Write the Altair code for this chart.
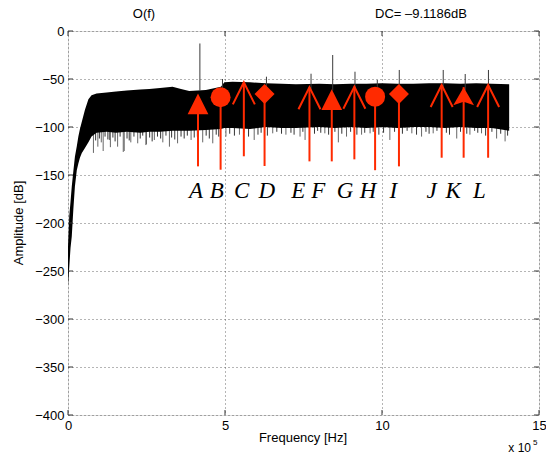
import altair as alt
import pandas as pd

# ---------------- data (frequency in units of 1e5 Hz, amplitude in dB) ----------------
band_f = [0.0, 0.04, 0.08, 0.12, 0.17, 0.22, 0.28, 0.33, 0.38, 0.44, 0.54, 0.65, 0.75, 0.91,
          1.23, 1.53, 1.87, 2.3, 2.59, 2.93, 3.33, 3.6, 3.86, 4.39, 4.87, 4.98, 5.24, 5.8,
          6.3, 6.8, 7.26, 8.0, 8.5, 9.0, 9.5, 10.0, 10.5, 11.0, 11.5, 12.0, 12.5, 13.0, 13.5, 14.05]
band_top = [-225, -193, -178, -162, -146, -131, -120, -110, -102, -94.5, -82, -71, -67, -65,
            -64, -63, -62, -61, -60.4, -59.5, -58, -60.4, -62.5, -61.5, -58, -53.5, -52.8, -53.5,
            -54.5, -55, -55.5, -55, -55.5, -55, -55, -54.5, -55, -55, -54.5, -54.5, -55, -54.5, -55, -55.5]
band_bottom = [-266, -246, -226, -214, -186, -162, -145, -138, -132, -127, -122, -116, -110, -106,
               -105, -106, -105, -106, -105, -105, -104, -104, -104, -103, -102, -101, -101, -102,
               -100, -101, -101, -100, -101, -100, -101, -100, -101, -100, -100, -101, -100, -101, -101, -104]

# thin spikes below the band (deeper ones)
down_f = [0.81, 0.95, 1.06, 1.12, 1.32, 1.35, 1.58, 1.76, 1.79, 2.0, 2.22, 2.48, 2.5, 2.75, 3.02,
          3.23, 3.49, 3.92, 4.29, 4.61, 5.03, 5.46, 5.93, 6.52, 6.94, 7.39, 7.55, 8.18, 8.61,
          8.87, 9.35, 9.62, 10.25, 10.95, 11.26, 11.63, 12.38, 12.8, 13.17, 13.65, 13.92]
down_db = [-127, -120.5, -116, -125, -113.5, -121, -120.5, -126, -125, -116, -117, -118.8, -118,
           -113.5, -116, -120.5, -117, -113.5, -116, -117, -110, -108, -113.5, -106.6, -108, -110,
           -113.5, -106.6, -116, -110, -108, -106.6, -113.5, -106.6, -110, -106.6, -112, -108,
           -106.6, -112, -115]

# shorter fringe spikes along the lower edge of the band
fringe_f = [0.88, 1.0, 1.18, 1.27, 1.43, 1.5, 1.66, 1.88, 1.95, 2.1, 2.3, 2.38, 2.6, 2.68, 2.85,
            2.95, 3.12, 3.3, 3.4, 3.6, 3.7, 3.8, 4.02, 4.12, 4.4, 4.5, 4.72, 4.8, 5.15, 5.3, 5.6,
            5.75, 6.05, 6.15, 6.35, 6.65, 6.8, 7.1, 7.2, 7.48, 7.85, 7.95, 8.05, 8.3, 8.5, 8.72,
            9.0, 9.2, 9.45, 9.72, 9.9, 10.05, 10.4, 10.65, 10.8, 11.1, 11.4, 11.5, 11.75, 12.05,
            12.15, 12.5, 12.7, 12.95, 13.05, 13.3, 13.5, 13.78, 14.0]
fringe_db = [-114, -112, -110, -113, -111, -115, -110, -112, -114, -110, -112, -109, -111, -115,
             -110, -112, -109, -111, -113, -110, -112, -109, -111, -110, -109, -112, -108, -110,
             -107, -109, -106, -110, -108, -106, -109, -105, -107, -106, -108, -105, -107, -104,
             -106, -108, -105, -107, -105, -108, -106, -105, -108, -106, -105, -107, -104, -108,
             -105, -107, -104, -106, -108, -105, -107, -104, -106, -109, -105, -107, -109]

# thin spikes above the band (tones)
up_f = [4.2, 4.92, 6.32, 7.74, 8.43, 9.14, 9.85, 10.55, 11.95, 12.65, 13.39]
up_db = [-13, -50, -47.6, -44.5, -25, -42.4, -51, -40.6, -40.6, -44.8, -40.6]

# red arrows
arrow_name = ["A", "B", "C", "D", "E", "F", "G", "H", "I", "J", "K", "L"]
arrow_f = [4.14, 4.86, 5.60, 6.26, 7.69, 8.40, 9.12, 9.78, 10.54, 11.90, 12.60, 13.38]
arrow_bottom = [-141, -144.5, -130.5, -140.6, -135.8, -135.8, -133.7, -145, -141, -132, -132, -132]
arrow_head = [-76, -69, -53.5, -65.6, -58.6, -71.4, -58, -68.4, -65.6, -56.3, -58.5, -56.3]
arrow_kind = ["tri", "circ", "chev", "dia", "chev", "tri", "chev", "circ", "dia", "chev", "head", "chev"]

# letter labels
letter_text = ["A", "B", "C", "D", "E", "F", "G", "H", "I", "J", "K", "L"]
letter_f = [4.08, 4.74, 5.53, 6.33, 7.33, 7.97, 8.82, 9.56, 10.36, 11.58, 12.27, 13.10]

x_ticks = [0, 5, 10, 15]
y_ticks = [0, -50, -100, -150, -200, -250, -300, -350, -400]

# ---------------- tables ----------------
band = pd.DataFrame({"f": band_f, "top": band_top, "bottom": band_bottom})
down = pd.DataFrame({"f": down_f, "db": down_db})
fringe = pd.DataFrame({"f": fringe_f, "db": fringe_db})
up = pd.DataFrame({"f": up_f, "db": up_db})
arrows = pd.DataFrame({"name": arrow_name, "f": arrow_f, "bottom": arrow_bottom,
                       "head": arrow_head, "kind": arrow_kind})
letters = pd.DataFrame({"t": letter_text, "f": letter_f})
xt = pd.DataFrame({"v": x_ticks})
yt = pd.DataFrame({"v": y_ticks})

RED = "#ff2a00"
SANS = "Liberation Sans"

xscale = alt.Scale(domain=[0, 15], nice=False, zero=False)
yscale = alt.Scale(domain=[-400, 0], nice=False, zero=False)
xaxis = alt.Axis(values=x_ticks, grid=True, gridDash=[1, 3], gridColor="#444", gridWidth=0.8,
                 domain=False, ticks=False, labelPadding=4, title=None, labelFlush=False,
                 labelFont=SANS, labelFontSize=13, labelColor="black", format="d")
yaxis = alt.Axis(values=y_ticks, grid=True, gridDash=[1, 3], gridColor="#444", gridWidth=0.8,
                 domain=False, ticks=False, labelPadding=4, title=None, labelFlush=False,
                 labelFont=SANS, labelFontSize=13, labelColor="black", format="d")


def X(field):
    return alt.X(field, scale=xscale, axis=xaxis)


def Y(field):
    return alt.Y(field, scale=yscale, axis=yaxis)


band_layer = alt.Chart(band).mark_area(color="black", interpolate="linear").encode(
    x=X("f:Q"), y=Y("top:Q"), y2="bottom:Q")

down_layer = alt.Chart(down).mark_rule(color="#666", strokeWidth=1).encode(
    x=X("f:Q"), y=Y("db:Q"), y2=alt.datum(-100))

fringe_layer = alt.Chart(fringe).mark_rule(color="#333", strokeWidth=1).encode(
    x=X("f:Q"), y=Y("db:Q"), y2=alt.datum(-100))

up_layer = alt.Chart(up).mark_rule(color="#3a3a3a", strokeWidth=1).encode(
    x=X("f:Q"), y=Y("db:Q"), y2=alt.datum(-62))

shaft_layer = alt.Chart(arrows).mark_rule(color=RED, strokeWidth=2).encode(
    x=X("f:Q"), y=Y("bottom:Q"), y2="head:Q")

TRI = "M-1,1L1,1L0,-1Z"
CHEV = "M-1,2L0,0L1,2"
HEAD = "M0,0L1,1.75L0,1.4L-1,1.75Z"

tri_layer = alt.Chart(arrows).transform_filter(alt.datum.kind == "tri").mark_point(
    shape=TRI, filled=True, color=RED, opacity=1, size=430).encode(x=X("f:Q"), y=Y("head:Q"))
circ_layer = alt.Chart(arrows).transform_filter(alt.datum.kind == "circ").mark_point(
    shape="circle", filled=True, color=RED, opacity=1, size=400).encode(x=X("f:Q"), y=Y("head:Q"))
dia_layer = alt.Chart(arrows).transform_filter(alt.datum.kind == "dia").mark_point(
    shape="diamond", filled=True, color=RED, opacity=1, size=400).encode(x=X("f:Q"), y=Y("head:Q"))
chev_layer = alt.Chart(arrows).transform_filter(alt.datum.kind == "chev").mark_point(
    shape=CHEV, filled=False, color=RED, opacity=1, strokeWidth=2, size=484,
    strokeJoin="miter").encode(x=X("f:Q"), y=Y("head:Q"))
head_layer = alt.Chart(arrows).transform_filter(alt.datum.kind == "head").mark_point(
    shape=HEAD, filled=True, color=RED, opacity=1, size=430).encode(x=X("f:Q"), y=Y("head:Q"))

letter_layer = alt.Chart(letters).mark_text(
    font="Liberation Serif", fontStyle="italic", fontSize=23, baseline="alphabetic",
    align="center", color="black").encode(x=X("f:Q"), y=alt.datum(-174.3), text="t:N")

# inward tick marks
xt_bot = alt.Chart(xt).mark_rule(color="#333").encode(x=X("v:Q"), y=alt.value(384), y2=alt.value(379))
xt_top = alt.Chart(xt).mark_rule(color="#333").encode(x=X("v:Q"), y=alt.value(0), y2=alt.value(5))
yt_left = alt.Chart(yt).mark_rule(color="#333").encode(y=Y("v:Q"), x=alt.value(0), x2=alt.value(5))
yt_right = alt.Chart(yt).mark_rule(color="#333").encode(y=Y("v:Q"), x=alt.value(466), x2=alt.value(471))


# texts around the plot
def label(txt, x, y, size=13, align="center", baseline="middle", angle=0):
    kw = dict(text=txt, font=SANS, fontSize=size, align=align, baseline=baseline, color="black")
    if angle:
        kw["angle"] = angle
    return alt.Chart(yt).transform_filter(alt.datum.v == 0).mark_text(**kw).encode(
        x=alt.value(x), y=alt.value(y))


t_of = label("O(f)", 76, -17)
t_dc = label("DC= \u20139.1186dB", 353, -17)
t_xl = label("Frequency [Hz]", 235, 407)
t_yl = label("Amplitude [dB]", -49, 192, angle=270)
t_x10 = label("x 10", 463, 421, size=12, align="right", baseline="alphabetic")
t_exp = label("5", 465, 414, size=8, align="left", baseline="alphabetic")

chart = alt.layer(
    down_layer, fringe_layer, band_layer, up_layer, shaft_layer,
    tri_layer, circ_layer, dia_layer, chev_layer, head_layer,
    letter_layer, xt_bot, xt_top, yt_left, yt_right,
    t_of, t_dc, t_xl, t_yl, t_x10, t_exp,
).properties(
    width=471, height=384,
    padding={"left": 68, "top": 31, "right": 7, "bottom": 40},
    autosize=alt.AutoSizeParams(type="none"),
).configure_view(stroke="#333", strokeWidth=1).configure(background="white")

chart.save("out.html", embed_options={"renderer": "svg", "actions": False})
